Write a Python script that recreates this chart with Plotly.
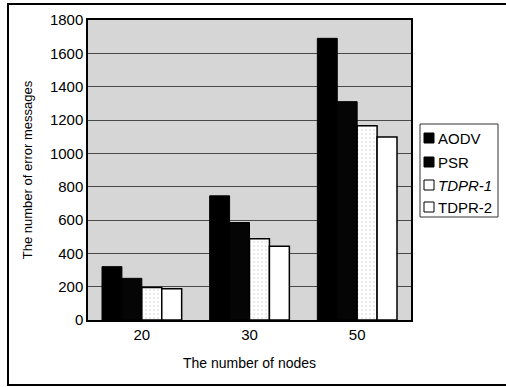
import plotly.graph_objects as go

# Number of error messages by network size for each routing protocol
nodes = ["20", "30", "50"]
aodv = [320, 745, 1690]
psr = [250, 585, 1310]
tdpr1 = [195, 488, 1165]
tdpr2 = [188, 443, 1098]

series_names = ["AODV", "PSR", "<i>TDPR-1</i>", "TDPR-2"]
y_ticks = [0, 200, 400, 600, 800, 1000, 1200, 1400, 1600, 1800]

FONT = "Liberation Sans, Arial, sans-serif"

# plot-area geometry in pixels (used to place the frame and the key in paper units)
L, T, W, H = 88, 20, 323, 300


def px(x):
    return (x - L) / W


def py(y):
    return (T + H - y) / H


dot_pattern = dict(shape=".", fgcolor="#9a9a9a", bgcolor="#ffffff", size=4, solidity=0.12)
styles = [
    dict(color="#000000", line=dict(color="#000000", width=1)),
    dict(color="#050505", line=dict(color="#000000", width=1)),
    dict(color="#ffffff", line=dict(color="#000000", width=1.5), pattern=dot_pattern),
    dict(color="#ffffff", line=dict(color="#000000", width=1.5)),
]

fig = go.Figure()
for name, vals, st in zip(series_names, [aodv, psr, tdpr1, tdpr2], styles):
    fig.add_trace(go.Bar(name=name, x=nodes, y=vals, marker=st, showlegend=False))

shapes = [
    # outer frame around the whole chart
    dict(type="rect", xref="paper", yref="paper",
         x0=px(8), x1=px(510), y0=py(385), y1=py(4),
         line=dict(color="#000000", width=2), fillcolor="rgba(0,0,0,0)", layer="below"),
    # key box
    dict(type="rect", xref="paper", yref="paper",
         x0=px(420), x1=px(498), y0=py(217), y1=py(124),
         line=dict(color="#333333", width=1), fillcolor="#ffffff"),
]
annotations = []
key_rows = [138, 162, 185, 207]
for name, st, yc in zip(series_names, styles, key_rows):
    shapes.append(dict(type="rect", xref="paper", yref="paper",
                       x0=px(424), x1=px(434), y0=py(yc + 5), y1=py(yc - 5),
                       line=dict(color="#000000", width=1), fillcolor=st["color"]))
    annotations.append(dict(xref="paper", yref="paper", x=px(436), y=py(yc),
                            xanchor="left", yanchor="middle", showarrow=False,
                            text=name, font=dict(family=FONT, size=15, color="#000000")))

fig.update_layout(
    width=506, height=387,
    margin=dict(l=L, r=506 - L - W, t=T, b=387 - T - H),
    paper_bgcolor="#ffffff",
    plot_bgcolor="#d6d6d6",
    barmode="group",
    bargap=0.26,
    bargroupgap=0,
    font=dict(family=FONT, color="#000000", size=15),
    xaxis=dict(
        title=dict(text="The number of nodes", font=dict(family=FONT, size=14), standoff=16),
        showline=True, linecolor="#000000", linewidth=1.5, mirror=True,
        ticks="", tickfont=dict(family=FONT, size=15),
        showgrid=False,
    ),
    yaxis=dict(
        title=dict(text="The number of error messages", font=dict(family=FONT, size=13), standoff=14),
        range=[0, 1800], tickvals=y_ticks,
        showline=True, linecolor="#000000", linewidth=1.5, mirror=True,
        ticks="", tickfont=dict(family=FONT, size=15),
        showgrid=True, gridcolor="#4a4a4a", gridwidth=1,
        zeroline=False,
    ),
    shapes=shapes,
    annotations=annotations,
)

fig.write_html("out.html")
